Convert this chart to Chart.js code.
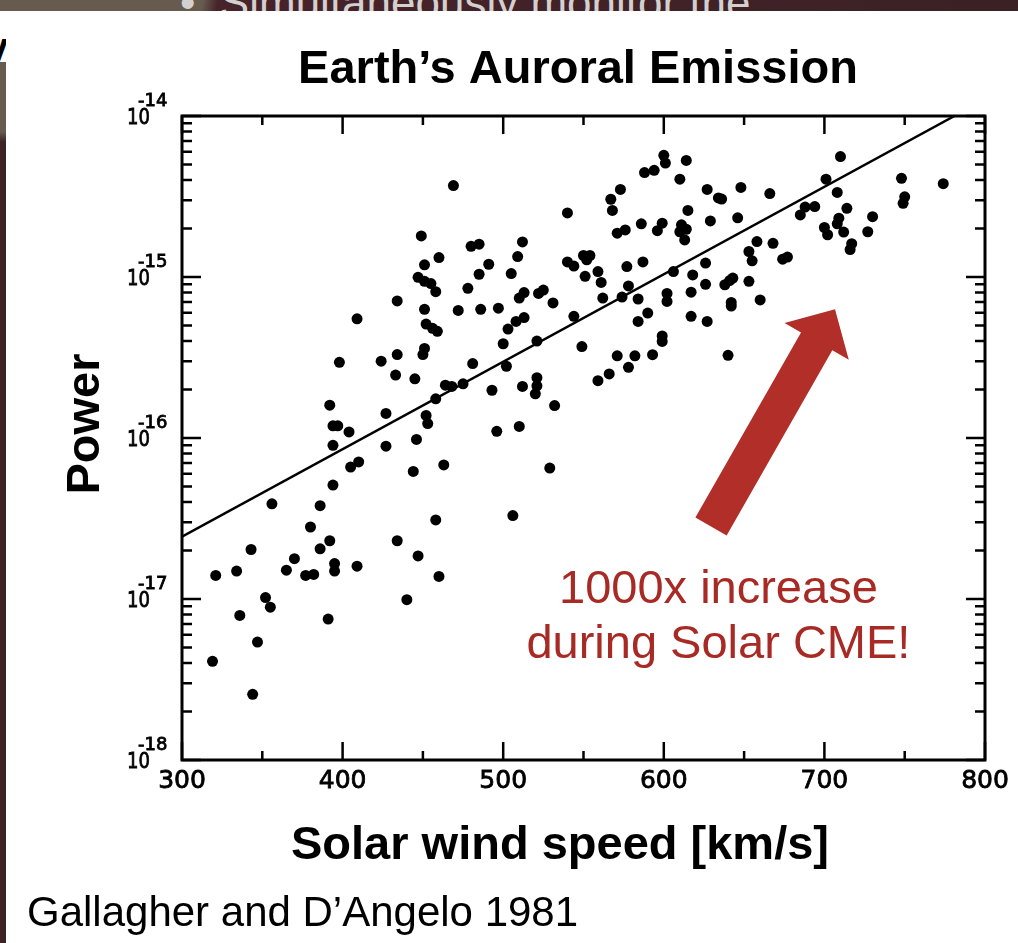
<!DOCTYPE html>
<html>
<head>
<meta charset="utf-8">
<script src="https://cdn.jsdelivr.net/npm/chart.js@4.4.1/dist/chart.umd.min.js"></script>
<style>
  html, body { margin: 0; padding: 0; width: 1018px; height: 943px; overflow: hidden; background: #3d2226; }
  #band { position: absolute; left: 0; top: 0; width: 1018px; height: 11px; overflow: hidden;
          background: linear-gradient(100deg, #665b4e 0, #665b4e 200px, #47232a 215px, #3a2124 1018px); }
  #band span { position: absolute; left: 180px; top: -22px; line-height: 44px; white-space: nowrap;
               font: 44px "Liberation Sans", Arial, sans-serif; color: #d4d0d0; }
  #strip { position: absolute; left: 0; top: 62px; width: 6px; height: 881px;
           background: linear-gradient(#665b4e 0, #665b4e 70px, #3d2226 80px); }
  #corner { position: absolute; left: 0; top: 11px; width: 6px; height: 51px; background: #fff; overflow: hidden; }
  #corner span { position: absolute; left: -14px; top: 14px; line-height: 40px;
                 font: bold 40px "Liberation Sans", Arial, sans-serif; color: #000; }
  #panel { position: absolute; left: 6px; top: 11px; width: 1012px; height: 932px; background: #fff; }
  canvas { position: absolute; left: 0; top: 0; }
</style>
</head>
<body>
<div id="band"><span>•&nbsp; Simultaneously monitor the</span></div>
<div id="panel"></div>
<div id="corner"><span>y</span></div>
<div id="strip"></div>
<canvas id="c" width="1018" height="943"></canvas>
<script>
// Solar wind speed (km/s) and auroral power for each observation
const speed = [
  469, 540, 449, 480, 485, 512, 509, 460, 451, 491, 540, 544, 550, 554, 552, 551,
  447, 451, 455, 458, 485, 505, 478, 513, 510, 522, 525, 531, 434, 409, 451, 472,
  486, 497, 513, 508, 503, 544, 452, 456, 459, 500, 521, 549, 398, 424, 434, 451,
  450, 433, 445, 481, 502, 464, 468, 475, 493, 512, 521, 521, 520, 458, 392, 427,
  532, 452, 453, 394, 397, 404, 496, 510, 446,
  394, 427, 405, 410, 444, 463, 529, 394, 356, 386, 380, 392, 386, 434, 458, 506,
  343, 370, 365, 334, 321, 377, 382, 395, 395, 409, 447, 460, 352, 355, 336, 391,
  440, 347, 319, 344,
  600, 601, 614, 588, 594, 710, 610, 573, 627, 648, 666, 634, 636, 567, 568, 615,
  748, 774, 750, 749, 701, 708, 688, 694, 685, 714, 730, 727, 709, 708, 700, 702,
  712, 717, 716, 646, 629, 586, 599, 596, 611, 614, 610, 613, 571, 576, 559, 561,
  577, 587, 578, 562, 574, 584, 606, 618, 626, 626, 617, 602, 602, 658, 668, 653,
  655, 674, 677, 638, 641, 643, 653, 642, 642, 660, 590, 584, 617, 627, 599, 599,
  571, 582, 593, 640, 566, 559, 578
];
const power = [
  3.7e-15, 2.5e-15, 1.8e-15, 1.55e-15, 1.6e-15, 1.65e-15, 1.34e-15, 1.32e-15, 1.19e-15, 1.2e-15, 1.24e-15, 1.17e-15, 1.36e-15, 1.36e-15, 1.28e-15, 1.01e-15,
  9.95e-16, 9.4e-16, 9.1e-16, 8.1e-16, 1.04e-15, 1.05e-15, 8.5e-16, 8.0e-16, 7.4e-16, 7.9e-16, 8.3e-16, 6.9e-16, 7.1e-16, 5.5e-16, 6.3e-16, 6.2e-16,
  6.3e-16, 6.4e-16, 5.6e-16, 5.3e-16, 4.75e-16, 5.7e-16, 5.1e-16, 4.8e-16, 4.6e-16, 3.85e-16, 4.0e-16, 3.7e-16, 2.95e-16, 3.0e-16, 3.3e-16, 3.6e-16,
  3.3e-16, 2.46e-16, 2.33e-16, 2.9e-16, 2.79e-16, 2.13e-16, 2.09e-16, 2.17e-16, 1.98e-16, 2.09e-16, 2.37e-16, 2.11e-16, 1.88e-16, 1.75e-16, 1.6e-16, 1.42e-16,
  1.59e-16, 1.38e-16, 1.23e-16, 1.19e-16, 1.19e-16, 1.09e-16, 1.1e-16, 1.18e-16, 9.8e-17,
  9.0e-17, 8.9e-17, 6.6e-17, 7.1e-17, 6.2e-17, 6.8e-17, 6.5e-17, 5.1e-17, 3.9e-17, 3.8e-17, 2.8e-17, 2.3e-17, 2.05e-17, 2.3e-17, 3.1e-17, 3.3e-17,
  2.03e-17, 1.78e-17, 1.51e-17, 1.49e-17, 1.4e-17, 1.4e-17, 1.42e-17, 1.66e-17, 1.49e-17, 1.6e-17, 1.85e-17, 1.38e-17, 1.02e-17, 8.9e-18, 7.9e-18, 7.5e-18,
  9.9e-18, 5.4e-18, 4.1e-18, 2.56e-18,
  5.7e-15, 5.1e-15, 5.3e-15, 4.45e-15, 4.6e-15, 5.6e-15, 4.05e-15, 3.5e-15, 3.5e-15, 3.6e-15, 3.3e-15, 3.1e-15, 3.05e-15, 3.04e-15, 2.59e-15, 2.59e-15,
  4.1e-15, 3.8e-15, 3.15e-15, 2.87e-15, 4.05e-15, 3.35e-15, 2.72e-15, 2.74e-15, 2.43e-15, 2.67e-15, 2.37e-15, 1.91e-15, 2.32e-15, 2.14e-15, 2.03e-15, 1.83e-15,
  1.9e-15, 1.61e-15, 1.48e-15, 2.33e-15, 2.23e-15, 2.14e-15, 2.16e-15, 1.94e-15, 2.11e-15, 1.98e-15, 1.91e-15, 1.7e-15, 1.87e-15, 1.96e-15, 1.08e-15, 9.25e-16,
  1.16e-15, 1.24e-15, 8.8e-16, 7.4e-16, 7.5e-16, 7.3e-16, 1.08e-15, 1.03e-15, 1.22e-15, 9.0e-16, 8.05e-16, 7.9e-16, 7.05e-16, 1.66e-15, 1.62e-15, 1.44e-15,
  1.26e-15, 1.29e-15, 1.33e-15, 8.95e-16, 9.5e-16, 9.85e-16, 9.4e-16, 6.95e-16, 6.6e-16, 7.2e-16, 5.97e-16, 5.3e-16, 5.7e-16, 5.3e-16, 4.3e-16, 3.98e-16,
  3.24e-16, 3.24e-16, 3.29e-16, 3.26e-16, 2.5e-16, 2.27e-16, 2.75e-16
];

// Least-squares fit line (end points)
const fitSpeed = [300, 781];
const fitPower = [2.44e-17, 1.0e-14];

// Axis ticks and labels
const xMajorTicks = [300, 400, 500, 600, 700, 800];
const xTickLabels = ['300', '400', '500', '600', '700', '800'];
const xMinorTicks = [350, 450, 550, 650, 750];
const yDecades = [1e-14, 1e-15, 1e-16, 1e-17, 1e-18];
const yExponentLabels = ['-14', '-15', '-16', '-17', '-18'];
const yMinorMultipliers = [2, 3, 4, 5, 6, 7, 8, 9];

// Callout arrow and its caption (in speed / power units)
const arrowTail = { speed: 629.4, power: 2.82e-17 };
const arrowTip = { speed: 706.6, power: 6.3e-16 };
const calloutLines = ['1000x increase', 'during Solar CME!'];
const calloutAnchor = { speed: 634, power: [9.5e-18, 4.28e-18] };

const RED = '#b12f28';
const TICK_FONT = '"DejaVu Sans", sans-serif';

const decorations = {
  id: 'decorations',
  afterDatasetsDraw(chart) {
    const ctx = chart.ctx;
    const xs = chart.scales.x, ys = chart.scales.y;
    const { left, right, top, bottom } = chart.chartArea;
    ctx.save();

    // frame
    ctx.strokeStyle = '#000';
    ctx.lineWidth = 3;
    ctx.strokeRect(left, top, right - left, bottom - top);

    // inward ticks on all four sides
    ctx.lineWidth = 2.5;
    const hTick = (v, len) => {
      const px = xs.getPixelForValue(v);
      ctx.beginPath();
      ctx.moveTo(px, bottom); ctx.lineTo(px, bottom - len);
      ctx.moveTo(px, top); ctx.lineTo(px, top + len);
      ctx.stroke();
    };
    const vTick = (v, len) => {
      const py = ys.getPixelForValue(v);
      ctx.beginPath();
      ctx.moveTo(left, py); ctx.lineTo(left + len, py);
      ctx.moveTo(right, py); ctx.lineTo(right - len, py);
      ctx.stroke();
    };
    xMajorTicks.forEach(v => hTick(v, 18));
    xMinorTicks.forEach(v => hTick(v, 9));
    yDecades.forEach(v => vTick(v, 19));
    yDecades.slice(1).forEach(d => yMinorMultipliers.forEach(m => vTick(d * m, 10)));

    // lettering-style text: filled plus a thin outline for heavier strokes
    const letter = (t, x, y) => { ctx.fillText(t, x, y); ctx.strokeText(t, x, y); };
    ctx.fillStyle = '#000';
    ctx.lineWidth = 0.8;

    // x tick labels
    ctx.font = '25px ' + TICK_FONT;
    ctx.textAlign = 'center';
    ctx.textBaseline = 'middle';
    xMajorTicks.forEach((v, i) => letter(xTickLabels[i], xs.getPixelForValue(v), 781));

    // y tick labels: 10 with superscript exponent
    yDecades.forEach((v, i) => {
      const py = ys.getPixelForValue(v);
      ctx.save();
      ctx.translate(150, py + 2);
      ctx.scale(0.82, 1);
      ctx.font = '22px ' + TICK_FONT;
      ctx.textAlign = 'right';
      letter('10', 0, 0);
      ctx.restore();
      ctx.font = '18px ' + TICK_FONT;
      ctx.textAlign = 'left';
      letter(yExponentLabels[i], 138, py - 15);
    });

    // title and axis titles
    ctx.textBaseline = 'alphabetic';
    ctx.textAlign = 'center';
    ctx.font = 'bold 47px "Liberation Sans", Arial, sans-serif';
    ctx.fillText('Earth\u2019s Auroral Emission', 578, 83);
    ctx.fillText('Solar wind speed [km/s]', 560, 859);
    ctx.save();
    ctx.translate(99, 424);
    ctx.rotate(-Math.PI / 2);
    ctx.fillText('Power', 0, 0);
    ctx.restore();

    // citation
    ctx.textAlign = 'left';
    ctx.font = '42px "Liberation Sans", Arial, sans-serif';
    ctx.fillText('Gallagher and D\u2019Angelo 1981', 27, 926);

    // callout arrow
    const tx = xs.getPixelForValue(arrowTail.speed), ty = ys.getPixelForValue(arrowTail.power);
    const hx = xs.getPixelForValue(arrowTip.speed), hy = ys.getPixelForValue(arrowTip.power);
    const len = Math.hypot(hx - tx, hy - ty);
    const ux = (hx - tx) / len, uy = (hy - ty) / len;
    const nx = -uy, ny = ux;
    const shaftW = 18, headW = 37, headL = 37;
    const bx = hx - ux * headL, by = hy - uy * headL;
    ctx.fillStyle = RED;
    ctx.beginPath();
    ctx.moveTo(tx + nx * shaftW, ty + ny * shaftW);
    ctx.lineTo(bx + nx * shaftW, by + ny * shaftW);
    ctx.lineTo(bx + nx * headW, by + ny * headW);
    ctx.lineTo(hx, hy);
    ctx.lineTo(bx - nx * headW, by - ny * headW);
    ctx.lineTo(bx - nx * shaftW, by - ny * shaftW);
    ctx.lineTo(tx - nx * shaftW, ty - ny * shaftW);
    ctx.closePath();
    ctx.fill();

    // callout caption
    ctx.fillStyle = '#a82a25';
    ctx.textAlign = 'center';
    ctx.font = '47px "Liberation Sans", Arial, sans-serif';
    const cx = xs.getPixelForValue(calloutAnchor.speed);
    calloutLines.forEach((t, i) => ctx.fillText(t, cx, ys.getPixelForValue(calloutAnchor.power[i])));

    ctx.restore();
  }
};

new Chart(document.getElementById('c'), {
  type: 'scatter',
  data: {
    datasets: [
      {
        type: 'line',
        data: fitSpeed.map((s, i) => ({ x: s, y: fitPower[i] })),
        borderColor: '#000',
        borderWidth: 2.5,
        pointRadius: 0,
        fill: false,
        order: 1
      },
      {
        data: speed.map((s, i) => ({ x: s, y: power[i] })),
        backgroundColor: '#000',
        borderWidth: 0,
        pointRadius: 5.5,
        order: 0
      }
    ]
  },
  options: {
    responsive: false,
    animation: false,
    devicePixelRatio: 1,
    layout: { padding: { left: 182, top: 116, right: 33, bottom: 183 } },
    plugins: { legend: { display: false }, tooltip: { enabled: false }, title: { display: false } },
    scales: {
      x: { type: 'linear', min: 300, max: 800, display: false },
      y: { type: 'logarithmic', min: 1e-18, max: 1e-14, display: false }
    }
  },
  plugins: [decorations]
});
</script>
</body>
</html>
